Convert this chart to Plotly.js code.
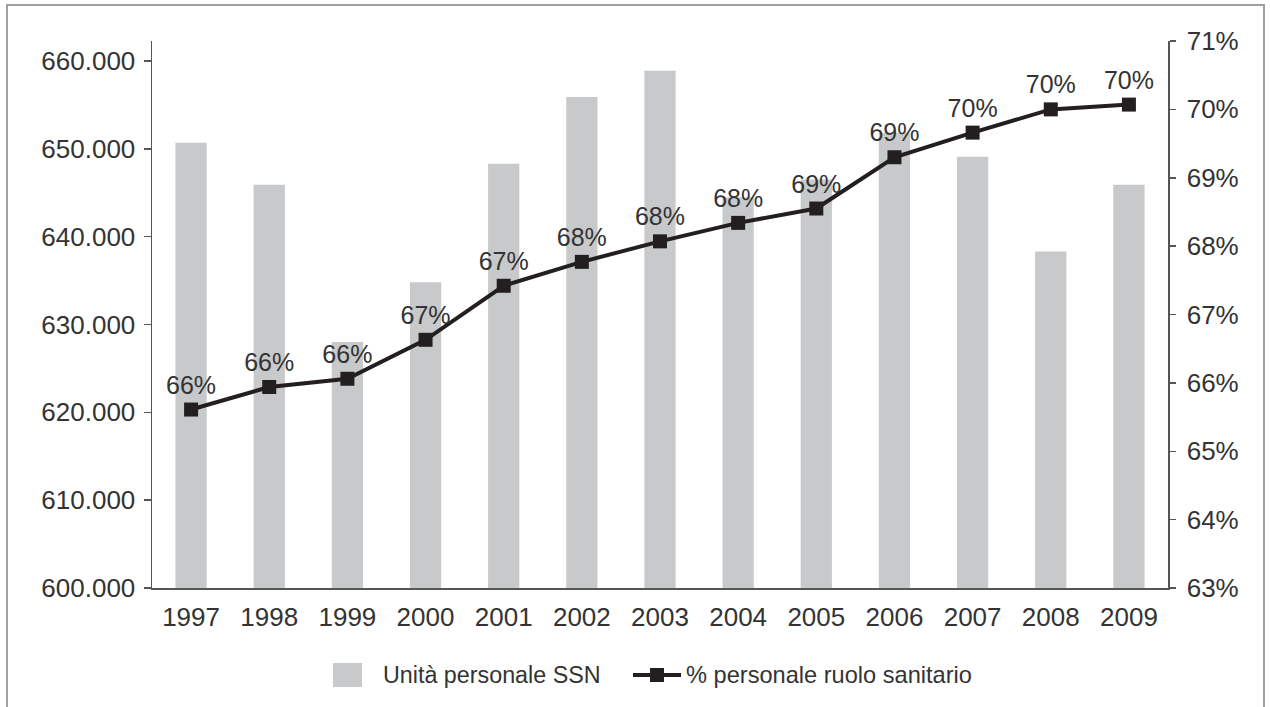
<!DOCTYPE html>
<html>
<head>
<meta charset="utf-8">
<script src="https://cdn.plot.ly/plotly-3.0.1.min.js"></script>
<style>
html,body{margin:0;padding:0;background:#fff;}
#chart{width:1270px;height:707px;}
</style>
</head>
<body>
<div id="chart"></div>
<script>
var years = ['1997','1998','1999','2000','2001','2002','2003','2004','2005','2006','2007','2008','2009'];
var unitaPersonale = [650700, 645900, 628000, 634800, 648300, 655900, 658900, 644500, 646500, 651800, 649100, 638300, 645900];
var percSanitario = [65.61, 65.94, 66.06, 66.63, 67.42, 67.77, 68.07, 68.34, 68.55, 69.30, 69.66, 70.00, 70.07];
var leftTickValues = [600000, 610000, 620000, 630000, 640000, 650000, 660000];
var leftTickLabels = ['600.000', '610.000', '620.000', '630.000', '640.000', '650.000', '660.000'];
var rightTickValues = [63, 64, 65, 66, 67, 68, 69, 70, 71];
var rightTickLabels = ['63%', '64%', '65%', '66%', '67%', '68%', '69%', '70%', '71%'];
var barName = 'Unità personale SSN';
var lineName = '% personale ruolo sanitario';

var FONT = '"Liberation Sans", Arial, sans-serif';
var TXT = '#333333';
var BARC = '#c8c9cb';
var LINEC = '#231f20';

// plot-area pixel geometry -> paper coordinates helpers
var PL = 152, PR = 1168, PT = 41, PB = 588;
function px(x) { return (x - PL) / (PR - PL); }
function py(y) { return (PB - y) / (PB - PT); }

var bars = {
  type: 'bar',
  x: years,
  y: unitaPersonale,
  name: barName,
  marker: {color: BARC},
  yaxis: 'y',
  showlegend: false
};

var line = {
  type: 'scatter',
  mode: 'lines+markers+text',
  x: years,
  y: percSanitario,
  name: lineName,
  yaxis: 'y2',
  line: {color: LINEC, width: 4},
  marker: {symbol: 'square', size: 14, color: LINEC},
  texttemplate: '%{y:.0f}%',
  textposition: 'top center',
  textfont: {family: FONT, size: 25, color: TXT},
  cliponaxis: false,
  showlegend: false
};

var legendY = 675;

var layout = {
  width: 1270,
  height: 707,
  margin: {l: PL, r: 1270 - PR, t: PT, b: 707 - PB},
  paper_bgcolor: '#ffffff',
  plot_bgcolor: '#ffffff',
  font: {family: FONT, size: 26, color: TXT},
  bargap: 0.6,
  showlegend: false,
  xaxis: {
    type: 'category',
    range: [-0.5, 12.5],
    showgrid: false,
    showline: true,
    linecolor: '#555555',
    linewidth: 1.5,
    ticks: '',
    ticklabelstandoff: 5,
    tickfont: {family: FONT, size: 26, color: TXT},
    zeroline: false
  },
  yaxis: {
    range: [600000, 662280],
    tickvals: leftTickValues,
    ticktext: leftTickLabels,
    showgrid: false,
    showline: true,
    linecolor: '#555555',
    linewidth: 1.5,
    ticks: 'outside',
    ticklen: 7,
    tickcolor: '#555555',
    tickwidth: 1.5,
    ticklabelstandoff: 3,
    tickfont: {family: FONT, size: 26, color: TXT},
    zeroline: false
  },
  yaxis2: {
    overlaying: 'y',
    side: 'right',
    range: [63, 71],
    tickvals: rightTickValues,
    ticktext: rightTickLabels,
    showgrid: false,
    showline: true,
    linecolor: '#555555',
    linewidth: 1.5,
    ticks: 'outside',
    ticklen: 6,
    tickcolor: '#555555',
    tickwidth: 1.5,
    ticklabelstandoff: 6,
    tickfont: {family: FONT, size: 26, color: TXT},
    zeroline: false
  },
  shapes: [
    {
      type: 'rect', xref: 'paper', yref: 'paper',
      x0: px(7), x1: px(1264), y0: py(740), y1: py(5),
      line: {color: '#a0a0a0', width: 2},
      fillcolor: 'rgba(0,0,0,0)', layer: 'below'
    },
    // legend: bar swatch
    {
      type: 'rect', xref: 'paper', yref: 'paper',
      x0: px(333), x1: px(362), y0: py(legendY + 12), y1: py(legendY - 12),
      line: {width: 0}, fillcolor: BARC
    },
    // legend: line symbol
    {
      type: 'line', xref: 'paper', yref: 'paper',
      x0: px(633), x1: px(681), y0: py(legendY), y1: py(legendY),
      line: {color: LINEC, width: 4}
    },
    {
      type: 'rect', xref: 'paper', yref: 'paper',
      x0: px(650), x1: px(664), y0: py(legendY + 7), y1: py(legendY - 7),
      line: {width: 0}, fillcolor: LINEC
    }
  ],
  annotations: [
    {
      xref: 'paper', yref: 'paper', x: px(381), y: py(legendY),
      xanchor: 'left', yanchor: 'middle', showarrow: false,
      text: barName, font: {family: FONT, size: 23.3, color: TXT}
    },
    {
      xref: 'paper', yref: 'paper', x: px(684), y: py(legendY),
      xanchor: 'left', yanchor: 'middle', showarrow: false,
      text: lineName, font: {family: FONT, size: 23.6, color: TXT}
    }
  ]
};

Plotly.newPlot('chart', [bars, line], layout, {displayModeBar: false, staticPlot: true});
</script>
</body>
</html>
